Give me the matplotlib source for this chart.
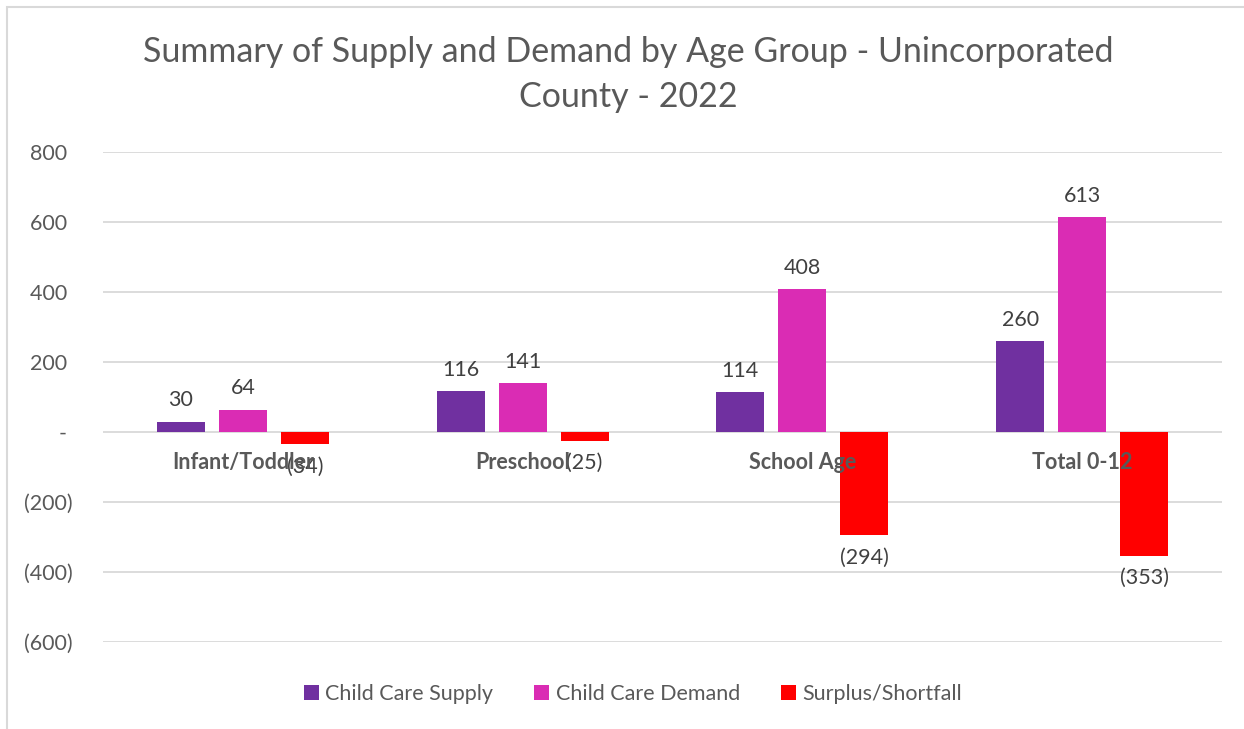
import matplotlib
matplotlib.use("Agg")
import matplotlib.pyplot as plt
from matplotlib.patches import Rectangle
import numpy as np

categories = ["Infant/Toddler", "Preschool", "School Age", "Total 0-12"]
supply = [30, 116, 114, 260]
demand = [64, 141, 408, 613]
surplus = [-34, -25, -294, -353]
series_names = ["Child Care Supply", "Child Care Demand", "Surplus/Shortfall"]
colors = ["#7030A0", "#DA2CB4", "#FF0000"]
yticks = [-600, -400, -200, 0, 200, 400, 600, 800]

W, H = 1244, 729
fig = plt.figure(figsize=(W / 100, H / 100), dpi=100)
plt.rcParams['font.family'] = ['Lato', 'DejaVu Sans']
gray = "#595959"
fs = 15.5

ax = fig.add_axes([103 / W, 1 - 642 / H, (1222 - 103) / W, (642 - 152) / H])
x = np.arange(len(categories))
bw = 0.172
step = 0.2216

def fmt(v):
    if v > 0:
        return f"{v:,}"
    if v < 0:
        return f"({-v:,})"
    return "-"

for i, (vals, name, c) in enumerate(zip([supply, demand, surplus], series_names, colors)):
    pos = x + (i - 1) * step
    ax.bar(pos, vals, width=bw, color=c, label=name, zorder=2)
    for p, v in zip(pos, vals):
        if v >= 0:
            ax.annotate(fmt(v), (p, v), xytext=(0, 8), textcoords="offset points",
                        ha="center", va="bottom", fontsize=fs, color="#404040", zorder=4)
        else:
            ax.annotate(fmt(v), (p, v), xytext=(0, -9), textcoords="offset points",
                        ha="center", va="top", fontsize=fs, color="#404040", zorder=4)

ax.set_xlim(-0.5, len(categories) - 0.5)
ax.set_ylim(-600, 800)
ax.set_yticks(yticks)
ax.set_yticklabels([fmt(v) + (" " if v >= 0 else "") for v in yticks], fontsize=fs, color=gray)
ax.tick_params(axis="y", length=0, pad=22)
ax.set_xticks([])
ax.grid(axis="y", color="#D9D9D9", linewidth=1.3, zorder=0)
for s in ax.spines.values():
    s.set_visible(False)

for xi, cat in zip(x, categories):
    ax.annotate(cat, (xi, 0), xytext=(0, -22), textcoords="offset points",
                ha="center", va="center", fontsize=fs, fontweight="bold", color=gray, zorder=5)

fig.text(628 / W, 1 - 52 / H, "Summary of Supply and Demand by Age Group - Unincorporated",
         ha="center", va="center", fontsize=24.5, color=gray)
fig.text(628 / W, 1 - 97 / H, "County - 2022", ha="center", va="center", fontsize=24.5, color=gray)

leg = fig.legend(loc="center", bbox_to_anchor=(633 / W, 1 - 694 / H), ncol=3, frameon=False,
                 fontsize=fs, handlelength=0.7, handleheight=0.7, handletextpad=0.3,
                 columnspacing=1.9)
for t in leg.get_texts():
    t.set_color(gray)

fig.patches.append(Rectangle((7 / W, -0.1), 1.2, 1 - 7 / H + 0.1, transform=fig.transFigure,
                             fill=False, edgecolor="#D9D9D9", linewidth=1.5))

fig.savefig("out.png", dpi=100)
